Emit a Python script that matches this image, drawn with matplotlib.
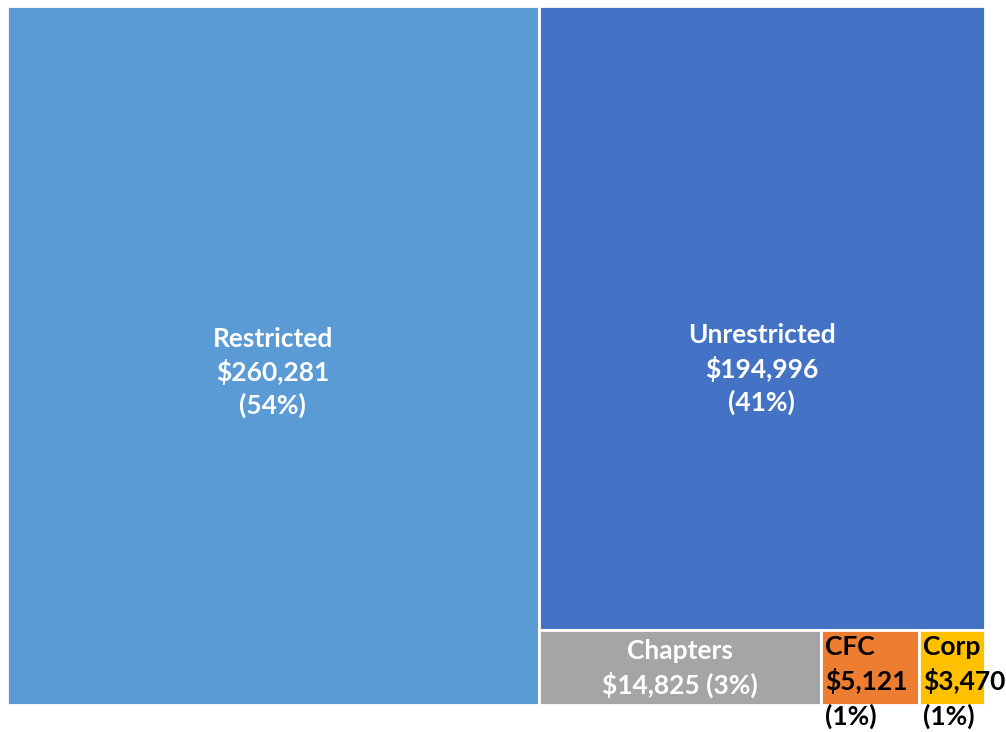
import matplotlib
matplotlib.use("Agg")
import matplotlib.pyplot as plt
from matplotlib.patches import Rectangle

labels = ["Restricted", "Unrestricted", "Chapters", "CFC", "Corp"]
values = [260281, 194996, 14825, 5121, 3470]
pcts = ["54%", "41%", "3%", "1%", "1%"]
colors = ["#5B9BD5", "#4472C4", "#A5A5A5", "#ED7D31", "#FFC000"]

plt.rcParams['font.family'] = ['Lato', 'DejaVu Sans']

fig = plt.figure(figsize=(10.06, 7.32), dpi=100)
ax = fig.add_axes([0, 0, 1, 1])
ax.set_xlim(0, 1006)
ax.set_ylim(732, 0)
ax.axis('off')

# treemap area in pixel units
x0, y0, W, H = 7, 6, 978, 699
total = sum(values)

rects = []
# first column: Restricted
w0 = W * values[0] / total
rects.append((x0, y0, w0, H))
# right part
rx = x0 + w0
rw = W - w0
rest = total - values[0]
h1 = H * values[1] / rest
rects.append((rx, y0, rw, h1))
# bottom row
by = y0 + h1
bh = H - h1
small = sum(values[2:])
cx = rx
for v in values[2:]:
    cw = rw * v / small
    rects.append((cx, by, cw, bh))
    cx += cw

for (x, y, w, h), c in zip(rects, colors):
    ax.add_patch(Rectangle((x, y), w, h, facecolor=c, edgecolor='white', linewidth=2))

fs = 19
ls = 1.38
# big boxes: white labels (excel puts them a bit below centre)
offs = [17, 51]
for i in range(2):
    x, y, w, h = rects[i]
    txt = "%s\n$%s\n(%s)" % (labels[i], format(values[i], ","), pcts[i])
    ax.text(x + w / 2, y + h / 2 + offs[i], txt, ha='center', va='center', color='white',
            fontsize=fs, fontweight='bold', linespacing=ls)

# Chapters
x, y, w, h = rects[2]
ax.text(x + w / 2, y + h / 2 + 1, "%s\n$%s (%s)" % (labels[2], format(values[2], ","), pcts[2]),
        ha='center', va='center', color='white', fontsize=fs, fontweight='bold', linespacing=ls)

# small boxes: top-left black labels, overflowing below
for i in (3, 4):
    x, y, w, h = rects[i]
    txt = "%s\n$%s\n(%s)" % (labels[i], format(values[i], ","), pcts[i])
    ax.text(x + 4, y + 5, txt, ha='left', va='top', color='black',
            fontsize=fs, fontweight='bold', linespacing=1.42)

fig.savefig("out.png", dpi=100)
